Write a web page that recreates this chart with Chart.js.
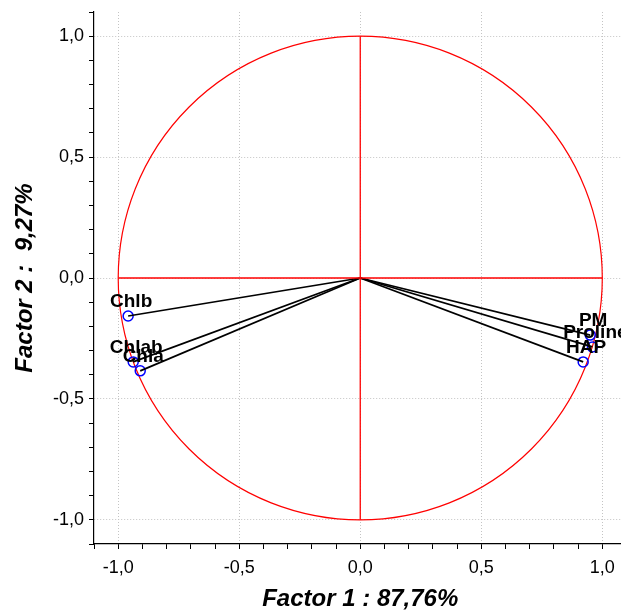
<!DOCTYPE html>
<html>
<head>
<meta charset="utf-8">
<script src="https://cdn.jsdelivr.net/npm/chart.js@4"></script>
<style>
    html, body { margin: 0; padding: 0; background: #fff; overflow: hidden; }
    canvas { display: block; }
</style>
</head>
<body>
<canvas id="chart" width="633" height="612"></canvas>
<script>
// Factor loadings
const variableNames = ['Chlb', 'Chlab', 'Chla', 'PM', 'Proline', 'HAP'];
const factor1Loadings = [-0.959, -0.938, -0.909, 0.950, 0.959, 0.921];
const factor2Loadings = [-0.157, -0.347, -0.384, -0.236, -0.285, -0.347];

// Axis ticks and titles
const majorTicks = [-1.0, -0.5, 0.0, 0.5, 1.0];
const axisTitleX = 'Factor 1 : 87,76%';
const axisTitleY = 'Factor 2 :  9,27%';

const FONT = 'Liberation Sans';

function isMajor(v) {
    return majorTicks.some(m => Math.abs(m - v) < 1e-6);
}

function tickLabel(v) {
    if (!isMajor(v)) return '';
    return v.toFixed(1).replace('.', ',');
}

/**
 * Red unit circle, drawn through the scales
 */
const unitCirclePlugin = {
    id: 'unitCircle',
    beforeDatasetsDraw(chart) {
        const { ctx, scales: { x, y } } = chart;
        const cx = x.getPixelForValue(0);
        const cy = y.getPixelForValue(0);
        const rx = x.getPixelForValue(1) - cx;
        const ry = cy - y.getPixelForValue(1);
        ctx.save();
        ctx.strokeStyle = '#ff0000';
        ctx.lineWidth = 1.2;
        ctx.beginPath();
        ctx.ellipse(cx, cy, rx, ry, 0, 0, Math.PI * 2);
        ctx.stroke();
        ctx.restore();
    }
};

/**
 * Variable names above each loading point
 */
const pointLabelPlugin = {
    id: 'pointLabels',
    afterDatasetsDraw(chart) {
        const { ctx } = chart;
        const idx = chart.data.datasets.findIndex(d => d.isLoadings);
        const meta = chart.getDatasetMeta(idx);
        ctx.save();
        ctx.font = `bold 19px "${FONT}"`;
        ctx.fillStyle = '#000';
        ctx.textAlign = 'center';
        ctx.textBaseline = 'alphabetic';
        meta.data.forEach((pt, i) => {
            ctx.fillText(variableNames[i], pt.x + 3, pt.y - 9);
        });
        ctx.restore();
    }
};

// Build datasets
const datasets = [];

// red cross through origin
datasets.push({
    data: [{ x: -1, y: 0 }, { x: 1, y: 0 }],
    showLine: true, borderColor: '#ff0000', borderWidth: 1.3, pointRadius: 0
});
datasets.push({
    data: [{ x: 0, y: -1 }, { x: 0, y: 1 }],
    showLine: true, borderColor: '#ff0000', borderWidth: 1.3, pointRadius: 0
});

// vectors from origin
variableNames.forEach((name, i) => {
    datasets.push({
        data: [{ x: 0, y: 0 }, { x: factor1Loadings[i], y: factor2Loadings[i] }],
        showLine: true, borderColor: '#000', borderWidth: 1.7, pointRadius: 0
    });
});

// loading points
datasets.push({
    isLoadings: true,
    data: variableNames.map((n, i) => ({ x: factor1Loadings[i], y: factor2Loadings[i] })),
    pointRadius: 5,
    pointBorderWidth: 1.5,
    pointBorderColor: '#0000ff',
    pointBackgroundColor: 'rgba(0,0,0,0)'
});

// fixed axis box sizes, no extra label padding at the ends
function fitAxis(s, isX) {
    if (isX) {
        s.height = 68;
        s.paddingLeft = 0;
        s.paddingRight = 0;
    } else {
        s.width = 94;
        s.paddingTop = 0;
        s.paddingBottom = 0;
    }
}

function axisOptions(title, isX) {
    return {
        type: 'linear',
        min: -1.1,
        max: 1.1,
        afterFit: s => fitAxis(s, isX),
        ticks: {
            stepSize: 0.1,
            autoSkip: false,
            maxRotation: 0,
            callback: v => tickLabel(v),
            color: '#000',
            font: { family: FONT, size: 18 },
            padding: isX ? 8 : 5
        },
        grid: {
            color: c => (c.tick && isMajor(c.tick.value)) ? '#c4c4c4' : 'rgba(0,0,0,0)',
            tickColor: '#000',
            tickLength: 5,
            lineWidth: 1
        },
        border: { color: '#000', width: 1.2, dash: [1, 2] },
        title: {
            display: true,
            text: title,
            color: '#000',
            font: { family: FONT, size: 24, weight: 'bold', style: 'italic', lineHeight: 1 },
            padding: isX ? { top: 0, bottom: 1 } : { top: 13, bottom: 0 }
        }
    };
}

new Chart(document.getElementById('chart'), {
    type: 'scatter',
    data: { datasets },
    options: {
        responsive: false,
        animation: false,
        layout: { padding: { top: 12, right: 4, left: 0, bottom: 0 } },
        plugins: {
            legend: { display: false },
            tooltip: { enabled: false }
        },
        scales: {
            x: axisOptions(axisTitleX, true),
            y: axisOptions(axisTitleY, false)
        }
    },
    plugins: [unitCirclePlugin, pointLabelPlugin]
});
</script>
</body>
</html>
